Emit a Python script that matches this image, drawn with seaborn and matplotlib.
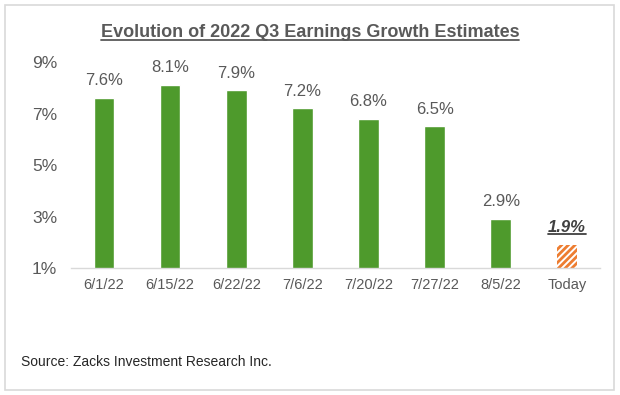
import matplotlib
matplotlib.use("Agg")
import matplotlib.pyplot as plt
import seaborn as sns
import pandas as pd
from matplotlib.lines import Line2D
from matplotlib.patches import Rectangle

dates = ["6/1/22", "6/15/22", "6/22/22", "7/6/22", "7/20/22", "7/27/22", "8/5/22", "Today"]
growth = [7.6, 8.1, 7.9, 7.2, 6.8, 6.5, 2.9, 1.9]
yticks = [1, 3, 5, 7, 9]

green = "#4E9A2C"
orange = "#ED7D31"
gray = "#595959"

sns.set_style("white")
plt.rcParams['font.family'] = ['Liberation Sans', 'DejaVu Sans']
plt.rcParams['hatch.linewidth'] = 2.0

df = pd.DataFrame({'Date': dates, 'Growth': growth})

fig = plt.figure(figsize=(6.2, 3.95), dpi=100)
ax = fig.add_axes([0.1145, 0.3215, 0.853, 0.5215])

palette = [green] * (len(dates) - 1) + ["white"]
sns.barplot(data=df, x='Date', y='Growth', hue='Date', palette=palette,
            legend=False, width=0.31, ax=ax, saturation=1)

# last bar is the hatched estimate
last = ax.patches[-1]
last.set_hatch('/////')
last.set_edgecolor(orange)
last.set_linewidth(0)

ax.set_ylim(1, 9)
ax.set_xlim(-0.5, len(dates) - 0.5)
ax.set_yticks(yticks)
ax.set_yticklabels([f"{t}%" for t in yticks], fontsize=12.5, color=gray)
ax.tick_params(axis='y', length=0, pad=10)
ax.tick_params(axis='x', length=0, pad=7, labelsize=10.5, labelcolor=gray)
ax.set_xlabel("")
ax.set_ylabel("")
for s in ['top', 'right', 'left']:
    ax.spines[s].set_visible(False)
ax.spines['bottom'].set_color("#D9D9D9")
ax.spines['bottom'].set_linewidth(1)

labels = []
for i, v in enumerate(growth):
    if i == len(growth) - 1:
        t = ax.text(i, v + 0.4, f"{v}%", ha='center', va='bottom', fontsize=12,
                    color="#404040", fontweight='bold', fontstyle='italic', clip_on=False)
        labels.append(t)
    else:
        ax.text(i, v + 0.38, f"{v}%", ha='center', va='bottom', fontsize=12,
                color=gray, clip_on=False)

title = fig.text(0.5, 0.918, "Evolution of 2022 Q3 Earnings Growth Estimates",
                 ha='center', va='center', fontsize=13, fontweight='bold', color=gray)
fig.text(0.034, 0.083, "Source: Zacks Investment Research Inc.", ha='left', va='center',
         fontsize=10, color="#262626")

# border
fig.patches.append(Rectangle((0.008, 0.012), 0.983, 0.975, transform=fig.transFigure,
                             fill=False, edgecolor="#D9D9D9", linewidth=1.2))

# underline title and today label
fig.canvas.draw()
r = fig.canvas.get_renderer()
inv = fig.transFigure.inverted()
for t, lw in [(title, 1.3), (labels[0], 1.3)]:
    bb = t.get_window_extent(r)
    (x0, y0), (x1, y1) = inv.transform([(bb.x0, bb.y0 + 1), (bb.x1, bb.y0 + 1)])
    fig.lines.append(Line2D([x0, x1], [y0, y1], transform=fig.transFigure,
                            color=t.get_color(), linewidth=lw))

fig.savefig("out.png", dpi=100)
